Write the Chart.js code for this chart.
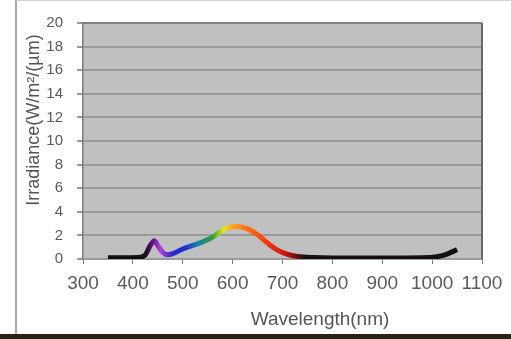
<!DOCTYPE html>
<html>
<head>
<meta charset="utf-8">
<script src="https://cdn.jsdelivr.net/npm/chart.js@4"></script>
<style>
  body { margin: 0; background: #fff; }
  #wrap { position: relative; width: 511px; height: 339px; overflow: hidden; }
  #frame { position: absolute; left: 15px; top: 0; width: 496px; height: 333px;
           border-left: 2px solid #a9a9a9; border-top: 1px solid #d0d0d0; }
  #band { position: absolute; left: 0; top: 334px; width: 511px; height: 5px; background: #2a2216; }
  canvas { position: absolute; left: 0; top: 0; }
</style>
</head>
<body>
<div id="wrap">
  <div id="frame"></div>
  <div id="band"></div>
  <canvas id="grafica" width="511" height="339"></canvas>
</div>
<script>
// spectrum
var wavelengths = [350, 380, 410, 425, 435, 443, 450, 460, 470, 480, 500, 520, 540, 560, 575, 590, 610, 630, 650, 670, 690, 710, 730, 760, 800, 900, 980, 1010, 1030, 1050];
var irradiance  = [0.1, 0.1, 0.12, 0.35, 1.15, 1.55, 1.15, 0.55, 0.35, 0.45, 0.85, 1.15, 1.45, 1.85, 2.3, 2.65, 2.75, 2.55, 2.05, 1.35, 0.75, 0.4, 0.22, 0.12, 0.08, 0.08, 0.1, 0.2, 0.42, 0.8];
var xTicks = [300, 400, 500, 600, 700, 800, 900, 1000, 1100];

// colour of the line along the spectrum
var stopNm     = [425, 440, 455, 480, 505, 530, 560, 582, 600, 630, 670, 705, 745];
var stopColors = ["#101010", "#6a1090", "#b040d8", "#2828c8", "#2030d0", "#1880b0", "#30a030", "#e8e820", "#ffa020", "#ff7010", "#f03810", "#d01010", "#151010"];

var puntos = wavelengths.map(function(w, i){ return {x: w, y: irradiance[i]}; });

function espectro(ctx){
  var chart = ctx.chart;
  var area = chart.chartArea;
  if (!area) return "#000";
  var sx = chart.scales.x;
  var g = chart.ctx.createLinearGradient(area.left, 0, area.right, 0);
  var w = area.right - area.left;
  for (var i = 0; i < stopNm.length; i++) {
    var p = (sx.getPixelForValue(stopNm[i]) - area.left) / w;
    g.addColorStop(Math.min(1, Math.max(0, p)), stopColors[i]);
  }
  return g;
}

var fondo = {
  id: 'fondo',
  beforeDraw: function(chart){
    var a = chart.chartArea, c = chart.ctx;
    c.save();
    c.fillStyle = "#c0c0c0";
    c.fillRect(a.left, a.top, a.right - a.left, a.bottom - a.top);
    c.restore();
  },
  afterDatasetsDraw: function(chart){
    var a = chart.chartArea, c = chart.ctx;
    c.save();
    c.strokeStyle = "#808080";
    c.lineWidth = 2;
    c.beginPath();
    c.moveTo(a.left, a.top); c.lineTo(a.right, a.top);
    c.stroke();
    c.strokeStyle = "#6a6a6a";
    c.beginPath();
    c.moveTo(a.right, a.top); c.lineTo(a.right, a.bottom);
    c.stroke();
    // axis titles
    c.fillStyle = "#555";
    c.font = "19px 'Liberation Sans', Arial, sans-serif";
    c.textAlign = "center";
    c.textBaseline = "middle";
    c.fillText("Wavelength(nm)", 320, 320);
    c.translate(34, 120);
    c.rotate(-Math.PI / 2);
    c.font = "18px 'Liberation Sans', Arial, sans-serif";
    c.fillText("Irradiance(W/m²/(µm)", 0, 0);
    c.restore();
  }
};

new Chart(document.getElementById("grafica").getContext("2d"), {
  type: 'line',
  data: {
    datasets: [{
      data: puntos,
      borderColor: espectro,
      borderWidth: 5,
      pointRadius: 0,
      tension: 0.4,
      cubicInterpolationMode: 'monotone',
      fill: false
    }]
  },
  options: {
    responsive: false,
    animation: false,
    layout: { padding: { top: 18, right: 29, left: 0, bottom: 0 } },
    plugins: { legend: { display: false }, tooltip: { enabled: false } },
    scales: {
      x: {
        type: 'linear',
        min: 300, max: 1100,
        afterFit: function(s){ s.height = 80; },
        afterBuildTicks: function(s){ s.ticks = xTicks.map(function(v){ return {value: v}; }); },
        grid: { drawOnChartArea: false, drawTicks: true, tickLength: 5, color: "#7a7a7a" },
        border: { display: false },
        ticks: { color: "#5a5a5a", padding: 8, maxRotation: 0, autoSkip: false,
                 callback: function(v){ return String(v); },
                 font: { size: 19, family: "'Liberation Sans', Arial, sans-serif" } }
      },
      y: {
        min: 0, max: 20,
        afterFit: function(s){ s.width = 83; },
        grid: { color: "#9a9a9a", lineWidth: 2, tickLength: 6, drawTicks: true },
        border: { display: true, color: "#7a7a7a", width: 1.5 },
        ticks: { stepSize: 2, color: "#5a5a5a", padding: 14,
                 font: { size: 15, family: "'Liberation Sans', Arial, sans-serif" } }
      }
    }
  },
  plugins: [fondo]
});
</script>
</body>
</html>
